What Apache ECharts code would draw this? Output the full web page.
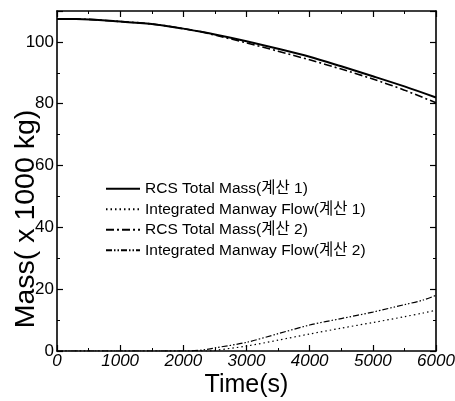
<!DOCTYPE html>
<html>
<head>
<meta charset="utf-8">
<script src="https://cdn.jsdelivr.net/npm/echarts@6/dist/echarts.min.js"></script>
<style>html,body{margin:0;padding:0;background:#fff}#chart{width:455px;height:401px}</style>
</head>
<body>
<div id="chart"></div>
<script>
// Time points (s)
const timeMass = [0, 300, 1000, 1500, 2000, 2300, 2500, 3000, 3500, 4000, 4500, 5000, 5500, 6000];
// RCS total mass (x1000 kg)
const rcsMass1 = [107.4, 107.4, 106.6, 105.8, 104.3, 103.2, 102.4, 100.2, 97.8, 95.2, 92.1, 88.9, 85.6, 82.0];
const rcsMass2 = [107.4, 107.4, 106.6, 105.8, 104.3, 103.2, 102.2, 99.7, 97.0, 94.2, 91.2, 88.0, 84.4, 80.3];

const timeFlow = [0, 1000, 2000, 2100, 2400, 2500, 3000, 3500, 4000, 4500, 5000, 5500, 5800, 6000];
// Integrated manway flow (x1000 kg)
const manwayFlow1 = [0, 0, 0, 0, 0, 0.2, 1.6, 3.5, 5.5, 7.4, 9.2, 11.1, 12.3, 13.2];
const manwayFlow2 = [0, 0, 0, 0, 0.6, 1.0, 2.8, 5.6, 8.4, 10.5, 12.6, 15.0, 16.5, 18.0];

const seriesNames = [
  'RCS Total Mass(계산 1)',
  'Integrated Manway Flow(계산 1)',
  'RCS Total Mass(계산 2)',
  'Integrated Manway Flow(계산 2)'
];

const pairs = (xs, ys) => xs.map((x, i) => [x, ys[i]]);

const font = 'Liberation Sans, Arial, Noto Sans CJK KR, sans-serif';
const chart = echarts.init(document.getElementById('chart'), null, { renderer: 'canvas' });

function axisBase(extra) {
  return Object.assign({
    axisLine: { show: true, onZero: false, lineStyle: { color: '#000', width: 1.6 } },
    axisTick: { show: true, inside: true, length: 6, lineStyle: { color: '#000', width: 1.2 } },
    minorTick: { show: true, splitNumber: 2, length: 3, lineStyle: { color: '#000', width: 1 } },
    splitLine: { show: false },
    nameMoveOverlap: false
  }, extra);
}

chart.setOption({
  animation: false,
  grid: { left: 57, right: 19, top: 11, bottom: 50, containLabel: false, outerBoundsMode: 'none' },
  legend: {
    orient: 'vertical',
    left: 100,
    top: 176,
    itemWidth: 34,
    itemHeight: 12,
    itemGap: 5,
    data: seriesNames,
    itemStyle: { color: 'transparent', borderWidth: 0, opacity: 0 },
    lineStyle: { color: '#000' },
    textStyle: { fontFamily: font, fontSize: 15.5, color: '#000' }
  },
  xAxis: [
    axisBase({
      type: 'value', min: 0, max: 6000, interval: 1000,
      name: 'Time(s)', nameLocation: 'middle', nameGap: 22,
      nameTextStyle: { fontFamily: font, fontSize: 25, color: '#000' },
      axisLabel: { color: '#000', fontFamily: font, fontSize: 17, fontStyle: 'italic', margin: 2,
        formatter: v => String(v) }
    }),
    axisBase({
      type: 'value', min: 0, max: 6000, interval: 1000, position: 'top',
      axisLabel: { show: false }
    })
  ],
  yAxis: [
    axisBase({
      type: 'value', min: 0, max: 110, interval: 20,
      name: 'Mass( x 1000 kg)', nameLocation: 'middle', nameGap: 17,
      nameTextStyle: { fontFamily: font, fontSize: 28.5, color: '#000', padding: [0, 76, 0, 0] },
      axisLabel: { color: '#000', fontFamily: font, fontSize: 17, margin: 3, showMaxLabel: false,
        formatter: v => (v > 100 ? '' : String(v)) }
    }),
    axisBase({
      type: 'value', min: 0, max: 110, interval: 20, position: 'right',
      axisLabel: { show: false }
    })
  ],
  series: [
    {
      name: seriesNames[0], type: 'line', symbol: 'none', smooth: 0.3,
      data: pairs(timeMass, rcsMass1),
      lineStyle: { color: '#000', width: 2, type: 'solid' }, itemStyle: { color: '#000' }
    },
    {
      name: seriesNames[1], type: 'line', symbol: 'none', smooth: 0.3,
      data: pairs(timeFlow, manwayFlow1),
      lineStyle: { color: '#000', width: 1.2, type: [1.5, 3] }, itemStyle: { color: '#000' }
    },
    {
      name: seriesNames[2], type: 'line', symbol: 'none', smooth: 0.3,
      data: pairs(timeMass, rcsMass2),
      lineStyle: { color: '#000', width: 1.6, type: [8, 3, 2, 3] }, itemStyle: { color: '#000' }
    },
    {
      name: seriesNames[3], type: 'line', symbol: 'none', smooth: 0.3,
      data: pairs(timeFlow, manwayFlow2),
      lineStyle: { color: '#000', width: 1.2, type: [6, 2, 1.5, 2, 1.5, 2] }, itemStyle: { color: '#000' }
    }
  ]
});
</script>
</body>
</html>
